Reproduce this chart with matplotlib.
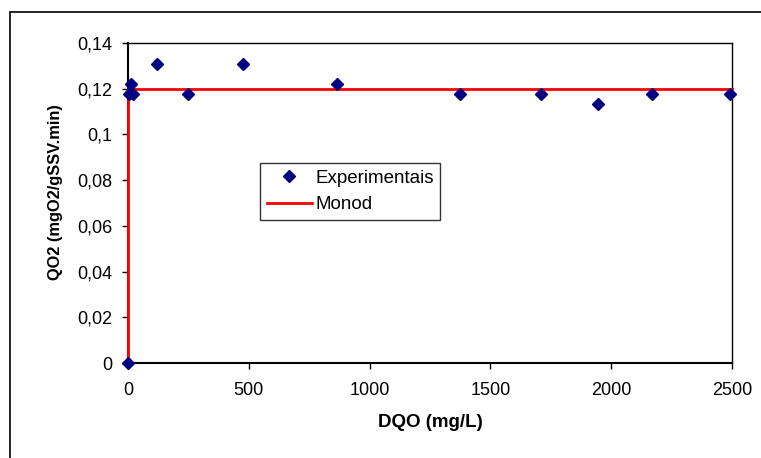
import matplotlib
matplotlib.use("Agg")
import matplotlib.pyplot as plt
from matplotlib.patches import Rectangle

# Experimental oxygen uptake rates vs. COD
dqo_exp = [0, 5, 12, 20, 122, 248, 477, 866, 1376, 1710, 1945, 2167, 2492]
qo2_exp = [0, 0.1177, 0.1221, 0.1177, 0.1309, 0.1177, 0.1309, 0.1221,
           0.1177, 0.1177, 0.1134, 0.1177, 0.1177]

# Monod model curve
dqo_monod = [0, 0, 2500]
qo2_monod = [0, 0.12, 0.12]

x_ticks = [0, 500, 1000, 1500, 2000, 2500]
x_tick_labels = ["0", "500", "1000", "1500", "2000", "2500"]
y_ticks = [0, 0.02, 0.04, 0.06, 0.08, 0.10, 0.12, 0.14]
y_tick_labels = ["0", "0,02", "0,04", "0,06", "0,08", "0,1", "0,12", "0,14"]

plt.rcParams["font.family"] = ["Liberation Sans", "DejaVu Sans"]

W, H = 761, 458
fig = plt.figure(figsize=(W / 100, H / 100), dpi=100)
fig.patch.set_facecolor("white")

# outer chart-area frame
fig.add_artist(Rectangle((10 / W, -0.2), 1.2, 1.2 - 12 / H,
                         transform=fig.transFigure, fill=False,
                         edgecolor="black", linewidth=1.2))

ax = fig.add_axes([128 / W, (H - 363) / H, (732 - 128) / W, (363 - 43) / H])

ax.plot(dqo_monod, qo2_monod, color="#FF0000", linewidth=2.0, label="Monod",
        zorder=3, clip_on=False)
ax.plot(dqo_exp, qo2_exp, linestyle="none", marker="D", markersize=5.8,
        color="#000080", label="Experimentais", zorder=4, clip_on=False)

ax.set_xlim(0, 2500)
ax.set_ylim(0, 0.14)
ax.set_xticks(x_ticks)
ax.set_xticklabels(x_tick_labels)
ax.set_yticks(y_ticks)
ax.set_yticklabels(y_tick_labels)
ax.tick_params(axis="both", direction="out", length=4.5, width=1,
               labelsize=13, color="black")
ax.tick_params(axis="x", pad=9)
ax.tick_params(axis="y", pad=6.5)

for s in ax.spines.values():
    s.set_color("black")
    s.set_linewidth(1.0)
ax.spines["bottom"].set_linewidth(1.5)
ax.spines["left"].set_linewidth(1.5)

ax.set_xlabel("DQO (mg/L)", fontsize=13.5, fontweight="bold")
ax.set_ylabel("QO2 (mgO2/gSSV.min)", fontsize=11.8, fontweight="bold")
ax.xaxis.set_label_coords(0.5, -0.158)
ax.yaxis.set_label_coords(-0.1076, 0.535)

handles, labels = ax.get_legend_handles_labels()
leg = ax.legend(handles[::-1], labels[::-1], loc="upper left",
                bbox_to_anchor=(260 / W, 1 - 163 / H),
                bbox_transform=fig.transFigure, fontsize=13.5,
                frameon=True, fancybox=False, shadow=False,
                handlelength=2.4, handletextpad=0.2, borderpad=0.35,
                labelspacing=0.5, borderaxespad=0)
leg.get_frame().set_edgecolor("black")
leg.get_frame().set_linewidth(1.0)

fig.savefig("out.png", dpi=100)
